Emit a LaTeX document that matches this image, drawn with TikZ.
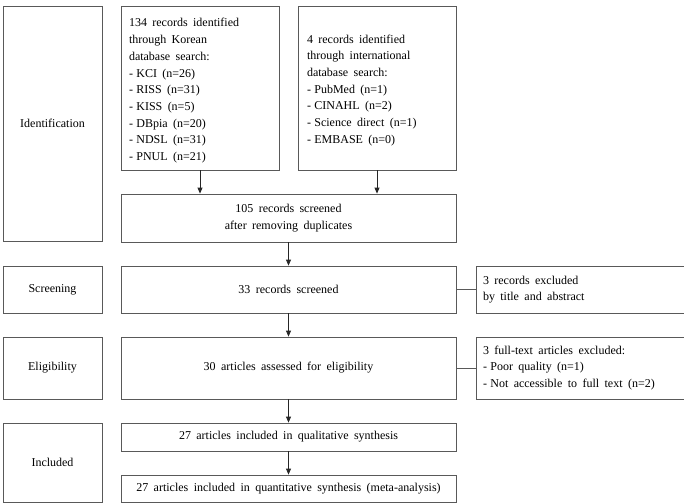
\documentclass[tikz,border=0pt]{standalone}
\usepackage{fontspec}
\setmainfont{Liberation Serif}
\usetikzlibrary{arrows.meta}
\newcommand{\diagfont}{\fontsize{12}{16.7}\selectfont\spaceskip=0.45em plus 0.1em minus 0.05em\relax}
\newcommand{\widespaces}{\spaceskip=0.45em plus 0.1em minus 0.05em\relax}
\newcommand{\itm}{-\hspace{0.28em}}
\begin{document}
\begin{tikzpicture}[x=1pt,y=-1pt,
  bx/.style={draw=black!65, line width=0.8pt, inner sep=0pt, font=\diagfont,
    execute at begin node=\widespaces},
  arr/.style={draw=black!85, line width=0.8pt, -{Triangle[length=6pt,width=5pt]}},
  ln/.style={draw=black!65, line width=0.8pt}]
\clip (0,0) rectangle (684,503);
% stage labels
\node[bx, minimum width=99pt, minimum height=235pt] (ident) at (52.5,123.5) {Identification};
\node[bx, minimum width=99pt, minimum height=47pt] (screen) at (52.5,289.5) {Screening};
\node[bx, minimum width=99pt, minimum height=62pt] (elig) at (52.5,368) {Eligibility};
\node[bx, minimum width=99pt, minimum height=79pt] (incl) at (52.5,462.5) {Included};
% identification boxes
\node[bx, minimum width=158pt, minimum height=164pt, text width=142pt, align=left] (kor) at (200,88)
 {\rule{0pt}{14pt}134 records identified\\ through Korean\\ database search:\\ \itm KCI (n=26)\\ \itm RISS (n=31)\\ \itm KISS (n=5)\\ \itm DBpia (n=20)\\ \itm NDSL (n=31)\\ \itm PNUL (n=21)};
\node[bx, minimum width=158pt, minimum height=164pt, text width=140pt, align=left] (intl) at (377,88)
 {\rule{0pt}{13pt}4 records identified\\ through international\\ database search:\\ \itm PubMed (n=1)\\ \itm CINAHL (n=2)\\ \itm Science direct (n=1)\\ \itm EMBASE (n=0)};
\node[bx, minimum width=335pt, minimum height=48pt, align=center] (s105) at (288.5,218)
 {105 records screened\\ after removing duplicates};
% screening
\node[bx, minimum width=335pt, minimum height=47pt] (s33) at (288.5,289.5) {33 records screened};
\node[bx, minimum width=210pt, minimum height=47pt, text width=196pt, align=left] (ex1) at (581,289.5)
 {3 records excluded\\ by title and abstract};
% eligibility
\node[bx, minimum width=335pt, minimum height=62pt] (s30) at (288.5,368) {30 articles assessed for eligibility};
\node[bx, minimum width=210pt, minimum height=62pt, text width=196pt, align=left] (ex2) at (581,368)
 {3 full-text articles excluded:\\ \itm Poor quality (n=1)\\ \itm Not accessible to full text (n=2)};
% included
\node[bx, minimum width=335pt, minimum height=28pt] (q1) at (288.5,437) {27 articles included in qualitative synthesis};
\node[bx, minimum width=335pt, minimum height=27pt] (q2) at (288.5,488.5) {27 articles included in quantitative synthesis (meta-analysis)};
% connectors
\draw[arr] (kor.south) -- (kor.south |- s105.north);
\draw[arr] (intl.south) -- (intl.south |- s105.north);
\draw[arr] (s105.south) -- (s33.north);
\draw[arr] (s33.south) -- (s30.north);
\draw[arr] (s30.south) -- (q1.north);
\draw[arr] (q1.south) -- (q2.north);
\draw[ln] (s33.east) -- (ex1.west);
\draw[ln] (s30.east) -- (ex2.west);
\end{tikzpicture}
\end{document}
